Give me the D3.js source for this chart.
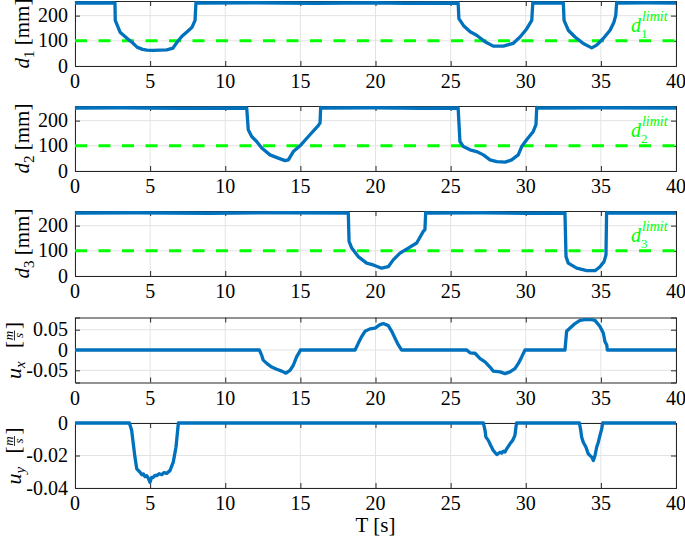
<!DOCTYPE html>
<html>
<head>
<meta charset="utf-8">
<script src="https://cdn.jsdelivr.net/npm/d3@7/dist/d3.min.js"></script>
<style>
  html, body { margin: 0; padding: 0; background: #fff; }
  svg { display: block; }
</style>
</head>
<body>
<svg id="chart" width="685" height="542" font-family="'Liberation Serif', 'DejaVu Serif', serif"></svg>
<script>
// ---------- data ----------
const xTicks = [0, 5, 10, 15, 20, 25, 30, 35, 40];
const dTicks = [0, 100, 200];
const uxTicks = [-0.05, 0, 0.05];
const uyTicks = [-0.04, -0.02, 0];
const uxTickLabels = ["-0.05", "0", "0.05"];
const uyTickLabels = ["-0.04", "-0.02", "0"];
const dLimit = 100;

const dist1 = [[0,250],[1.5,251],[2.66,250],[2.68,181],[3.0,134],[3.46,110],[3.79,94],[4.13,75],[4.5,66],[4.79,63],[5.2,62],[5.66,63],[6.1,64],[6.52,71],[6.79,94],[7.12,118],[7.5,138],[7.79,154],[7.99,181],[8.05,252],[8.1,250],[12,251],[16,249],[20,251],[22,249],[25.5,250],[25.55,188],[25.85,161],[26.3,136],[26.73,122],[27.29,96],[27.84,79],[28.51,79],[29.17,90],[29.62,115],[30.07,148],[30.4,181],[30.47,252],[30.5,250],[32.5,250],[32.55,181],[32.83,142],[33.28,115],[33.83,89],[34.39,72],[34.72,83],[35.16,109],[35.61,142],[35.87,174],[35.99,201],[36.05,252],[36.1,250],[38,251],[40,250]];

const dist2 = [[0,250],[3,251],[7,249],[11.43,250],[11.53,164],[11.76,137],[12.09,117],[12.43,91],[12.98,64],[13.53,51],[13.98,41],[14.2,44],[14.53,77],[14.98,100],[15.53,137],[16.19,180],[16.31,191],[16.35,252],[16.4,250],[20,251],[23,249],[25.5,250],[25.56,184],[25.62,117],[25.85,97],[26.29,84],[26.73,77],[27.18,64],[27.62,44],[28.07,37],[28.62,35],[29.06,44],[29.5,64],[29.73,97],[30.06,124],[30.5,157],[30.68,184],[30.73,252],[30.8,250],[35,251],[40,250]];

const dist3 = [[0,250],[4,251],[9,249],[14,251],[18.19,250],[18.24,137],[18.42,111],[18.85,77],[19.41,51],[19.85,44],[20.41,31],[20.85,37],[21.18,64],[21.63,91],[22.18,111],[22.74,131],[23.18,177],[23.29,184],[23.34,252],[23.4,250],[27,251],[30,249],[32.61,250],[32.68,77],[32.83,51],[33.39,31],[34.06,21],[34.61,21],[34.94,37],[35.21,57],[35.34,84],[35.38,252],[35.45,250],[40,250]];

const velX = [[0,0],[12.27,0],[12.42,-0.0125],[12.53,-0.025],[12.76,-0.033],[13.09,-0.042],[13.42,-0.0475],[13.76,-0.052],[14.04,-0.057],[14.31,-0.05],[14.53,-0.0375],[14.75,-0.017],[14.98,-0.002],[15.0,0],[18.64,0],[18.86,0.017],[19.08,0.033],[19.3,0.046],[19.63,0.052],[19.97,0.054],[20.3,0.0625],[20.52,0.065],[20.85,0.06],[21.08,0.046],[21.3,0.029],[21.52,0.0125],[21.74,0],[26.07,0],[26.29,-0.007],[26.62,-0.008],[26.96,-0.021],[27.29,-0.029],[27.62,-0.042],[27.84,-0.052],[28.29,-0.054],[28.62,-0.058],[28.95,-0.054],[29.28,-0.046],[29.51,-0.033],[29.73,-0.017],[29.95,0],[32.61,0],[32.72,0.046],[32.95,0.054],[33.28,0.065],[33.61,0.073],[33.94,0.075],[34.39,0.075],[34.61,0.073],[34.94,0.058],[35.16,0.042],[35.27,0.021],[35.39,0.0125],[35.43,0],[40,0]];

const velY = [[0,0],[3.62,0],[3.77,-0.0045],[3.88,-0.0128],[3.99,-0.021],[4.11,-0.0282],[4.33,-0.0303],[4.45,-0.0318],[4.55,-0.0313],[4.66,-0.033],[4.77,-0.0324],[4.88,-0.034],[4.99,-0.0365],[5.1,-0.0335],[5.21,-0.0334],[5.33,-0.0322],[5.44,-0.0324],[5.6,-0.0312],[5.77,-0.0318],[5.93,-0.0305],[6.1,-0.031],[6.32,-0.0293],[6.54,-0.0241],[6.72,-0.0149],[6.81,-0.0066],[6.88,0],[27.18,0],[27.29,-0.0045],[27.35,-0.0087],[27.51,-0.0107],[27.67,-0.0138],[27.84,-0.0169],[28.07,-0.0194],[28.29,-0.018],[28.4,-0.0185],[28.51,-0.0173],[28.62,-0.0178],[28.73,-0.0159],[28.95,-0.0128],[29.13,-0.0107],[29.28,-0.0076],[29.35,-0.0025],[29.39,0],[33.57,0],[33.66,-0.0045],[33.72,-0.0087],[33.83,-0.0118],[34.01,-0.0149],[34.16,-0.019],[34.39,-0.021],[34.5,-0.0231],[34.61,-0.02],[34.72,-0.0149],[34.83,-0.0118],[34.94,-0.0076],[35.06,-0.0035],[35.12,0],[40,0]];

// ---------- layout ----------
const svg = d3.select("#chart");
const X0 = 75, X1 = 676, H = 65;
const tops = [1, 106, 211, 317.5, 423];
const x = d3.scaleLinear().domain([0, 40]).range([X0, X1]);
const blue = "#0072BD", green = "#00FF00", axisCol = "#262626", gridCol = "#e3e3e3";
const FS = 20;

const panels = [
  { data: dist1, dom: [0, 258], ticks: dTicks, labels: dTicks.map(String), sub: "1", limit: true },
  { data: dist2, dom: [0, 258], ticks: dTicks, labels: dTicks.map(String), sub: "2", limit: true },
  { data: dist3, dom: [0, 258], ticks: dTicks, labels: dTicks.map(String), sub: "3", limit: true },
  { data: velX, dom: [-0.08, 0.08], ticks: uxTicks, labels: uxTickLabels, usub: "x" },
  { data: velY, dom: [-0.04, 0], ticks: uyTicks, labels: uyTickLabels, usub: "y" }
];

panels.forEach((p, i) => {
  const top = tops[i];
  const y = d3.scaleLinear().domain(p.dom).range([top + H, top]);
  const g = svg.append("g");

  // grid
  g.selectAll(".gx").data(xTicks).join("line")
    .attr("x1", d => x(d)).attr("x2", d => x(d))
    .attr("y1", top).attr("y2", top + H)
    .attr("stroke", gridCol).attr("stroke-width", 1);
  g.selectAll(".gy").data(p.ticks).join("line")
    .attr("x1", X0).attr("x2", X1)
    .attr("y1", d => y(d)).attr("y2", d => y(d))
    .attr("stroke", gridCol).attr("stroke-width", 1);

  // axes (box, ticks inside) via d3 axes
  const axB = d3.axisBottom(x).tickValues(xTicks).tickSize(-5).tickFormat("");
  const axT = d3.axisTop(x).tickValues(xTicks).tickSize(-5).tickFormat("");
  const axL = d3.axisLeft(y).tickValues(p.ticks).tickSize(-5).tickFormat("");
  const axR = d3.axisRight(y).tickValues(p.ticks).tickSize(-5).tickFormat("");
  [[axB, `translate(0,${top + H})`], [axT, `translate(0,${top})`],
   [axL, `translate(${X0},0)`], [axR, `translate(${X1},0)`]].forEach(([ax, tr]) => {
    const a = g.append("g").attr("transform", tr).call(ax);
    a.select(".domain").attr("stroke", axisCol).attr("stroke-width", 1);
    a.selectAll(".tick line").attr("stroke", axisCol).attr("stroke-width", 1);
  });

  // tick labels
  g.selectAll(".xl").data(xTicks).join("text")
    .attr("x", d => x(d)).attr("y", top + H + 22)
    .attr("text-anchor", "middle").attr("font-size", FS).text(d => d);
  g.selectAll(".yl").data(p.ticks).join("text")
    .attr("x", X0 - 7).attr("y", d => y(d)).attr("dy", "0.33em")
    .attr("text-anchor", "end").attr("font-size", FS)
    .text((d, j) => p.labels[j]);

  // limit line
  if (p.limit) {
    g.append("line")
      .attr("x1", X0).attr("x2", X1).attr("y1", y(dLimit)).attr("y2", y(dLimit))
      .attr("stroke", green).attr("stroke-width", 3).attr("stroke-dasharray", "12,11.5");
    const bx = x(37.0), by = y(135);
    g.append("text").attr("x", bx).attr("y", by).attr("font-size", FS)
      .attr("font-style", "italic").attr("fill", green).text("d");
    g.append("text").attr("x", bx + 10).attr("y", by + 6).attr("font-size", 13)
      .attr("fill", green).text(p.sub);
    g.append("text").attr("x", bx + 11).attr("y", by - 11).attr("font-size", 14)
      .attr("font-style", "italic").attr("fill", green).text("limit");
  }

  // data line
  const line = d3.line().x(d => x(d[0])).y(d => y(d[1]));
  g.append("path").datum(p.data).attr("d", line)
    .attr("fill", "none").attr("stroke", blue).attr("stroke-width", 3.3)
    .attr("stroke-linejoin", "round");

  // y labels
  const cy = top + H / 2;
  if (p.sub) {
    const t = g.append("text").attr("transform", `translate(29,${cy}) rotate(-90)`)
      .attr("text-anchor", "middle").attr("font-size", 21);
    t.append("tspan").attr("font-style", "italic").text("d");
    t.append("tspan").attr("font-size", 15).attr("dy", 5).text(p.sub);
    t.append("tspan").attr("dy", -5).text("\u00a0[mm]");
  } else {
    // local y == screen x (minus 3), local x == -(screen y - cy)
    const lg = g.append("g").attr("transform", `translate(3,${cy}) rotate(-90)`);
    lg.append("text").attr("x", -29).attr("y", 18).attr("font-size", 22)
      .attr("font-style", "italic").text("u");
    lg.append("text").attr("x", -18).attr("y", 22).attr("font-size", 15)
      .attr("font-style", "italic").text(p.usub);
    lg.append("text").attr("x", 2).attr("y", 17).attr("font-size", 21).text("[");
    lg.append("text").attr("x", 21).attr("y", 17).attr("font-size", 21).text("]");
    lg.append("text").attr("x", 14.5).attr("y", 9.5).attr("text-anchor", "middle")
      .attr("font-size", 13).attr("font-style", "italic").text("m");
    lg.append("line").attr("x1", 9.5).attr("x2", 19.5).attr("y1", 11.5).attr("y2", 11.5)
      .attr("stroke", "#000").attr("stroke-width", 0.8);
    lg.append("text").attr("x", 14.5).attr("y", 19.5).attr("text-anchor", "middle")
      .attr("font-size", 13).attr("font-style", "italic").text("s");
  }
});

// x title
svg.append("text").attr("x", (X0 + X1) / 2).attr("y", 532)
  .attr("text-anchor", "middle").attr("font-size", 21).text("T [s]");
</script>
</body>
</html>
